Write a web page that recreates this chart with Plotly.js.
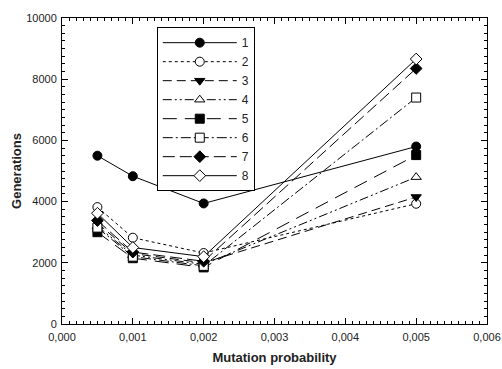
<!DOCTYPE html>
<html>
<head>
<meta charset="utf-8">
<script src="https://cdn.plot.ly/plotly-3.0.1.min.js"></script>
<style>html,body{margin:0;padding:0;background:#fff;}#chart{width:502px;height:369px;}</style>
</head>
<body>
<div id="chart"></div>
<script>
const mutationProb = [0.0005, 0.001, 0.002, 0.005];
const seriesNames = ["1", "2", "3", "4", "5", "6", "7", "8"];
const s1 = [5500, 4830, 3940, 5800];
const s2 = [3820, 2820, 2320, 3930];
const s3 = [3300, 2300, 2000, 4150];
const s4 = [3200, 2250, 1950, 4800];
const s5 = [3000, 2150, 1850, 5520];
const s6 = [3150, 2200, 1900, 7400];
const s7 = [3380, 2350, 2050, 8350];
const s8 = [3620, 2500, 2200, 8660];
const seriesValues = [s1, s2, s3, s4, s5, s6, s7, s8];

const styles = [
  {dash: "solid", symbol: "circle", fill: "#000"},
  {dash: "dot", symbol: "circle", fill: "#fff"},
  {dash: "9px,5px", symbol: "triangle-down", fill: "#000"},
  {dash: "9px,3px,2px,3px,2px,3px", symbol: "triangle-up", fill: "#fff"},
  {dash: "14px,8px", symbol: "square", fill: "#000"},
  {dash: "10px,3px,2px,3px", symbol: "square", fill: "#fff"},
  {dash: "12px,5px", symbol: "diamond", fill: "#000"},
  {dash: "solid", symbol: "diamond", fill: "#fff"}
];

const traces = seriesValues.map((vals, i) => ({
  x: mutationProb,
  y: vals,
  name: seriesNames[i],
  type: "scatter",
  mode: "lines+markers",
  line: {color: "#000", width: 1, dash: styles[i].dash},
  marker: {symbol: styles[i].symbol, size: 9, color: styles[i].fill, line: {color: "#000", width: 1}}
}));

const font = {family: "Liberation Sans, Arial, sans-serif", color: "#222"};
const titleFont = {family: "Liberation Sans, Arial, sans-serif", size: 13, color: "#222", weight: "bold"};
const layout = {
  width: 502, height: 369,
  margin: {l: 62, r: 15, t: 18, b: 45},
  paper_bgcolor: "#fff", plot_bgcolor: "#fff",
  separators: ", ",
  font: Object.assign({size: 11}, font),
  showlegend: true,
  legend: {
    x: 0.223, y: 0.97, xanchor: "left", yanchor: "top",
    bordercolor: "#000", borderwidth: 1, bgcolor: "#fff",
    font: Object.assign({size: 12}, font),
    itemwidth: 74, tracegroupgap: 0
  },
  xaxis: {
    range: [0, 0.006], tick0: 0, dtick: 0.001, tickformat: ".3f",
    ticks: "inside", ticklen: 6, tickcolor: "#000", tickwidth: 1,
    minor: {ticks: "inside", ticklen: 3, dtick: 0.0001, tickcolor: "#000"},
    showline: true, linecolor: "#000", linewidth: 1, mirror: "ticks",
    showgrid: false, zeroline: false, ticklabelstandoff: 3,
    tickfont: Object.assign({size: 11}, font),
    title: {text: "Mutation probability", font: titleFont, standoff: 10}
  },
  yaxis: {
    range: [0, 10000], tick0: 0, dtick: 2000, tickformat: "d",
    ticks: "inside", ticklen: 6, tickcolor: "#000", tickwidth: 1,
    minor: {ticks: "inside", ticklen: 3, dtick: 250, tickcolor: "#000"},
    showline: true, linecolor: "#000", linewidth: 1, mirror: "ticks",
    showgrid: false, zeroline: false, ticklabelstandoff: 2,
    tickfont: Object.assign({size: 11}, font),
    title: {text: "Generations", font: titleFont, standoff: 1}
  }
};

Plotly.newPlot("chart", traces, layout, {displayModeBar: false, staticPlot: true});
</script>
</body>
</html>
